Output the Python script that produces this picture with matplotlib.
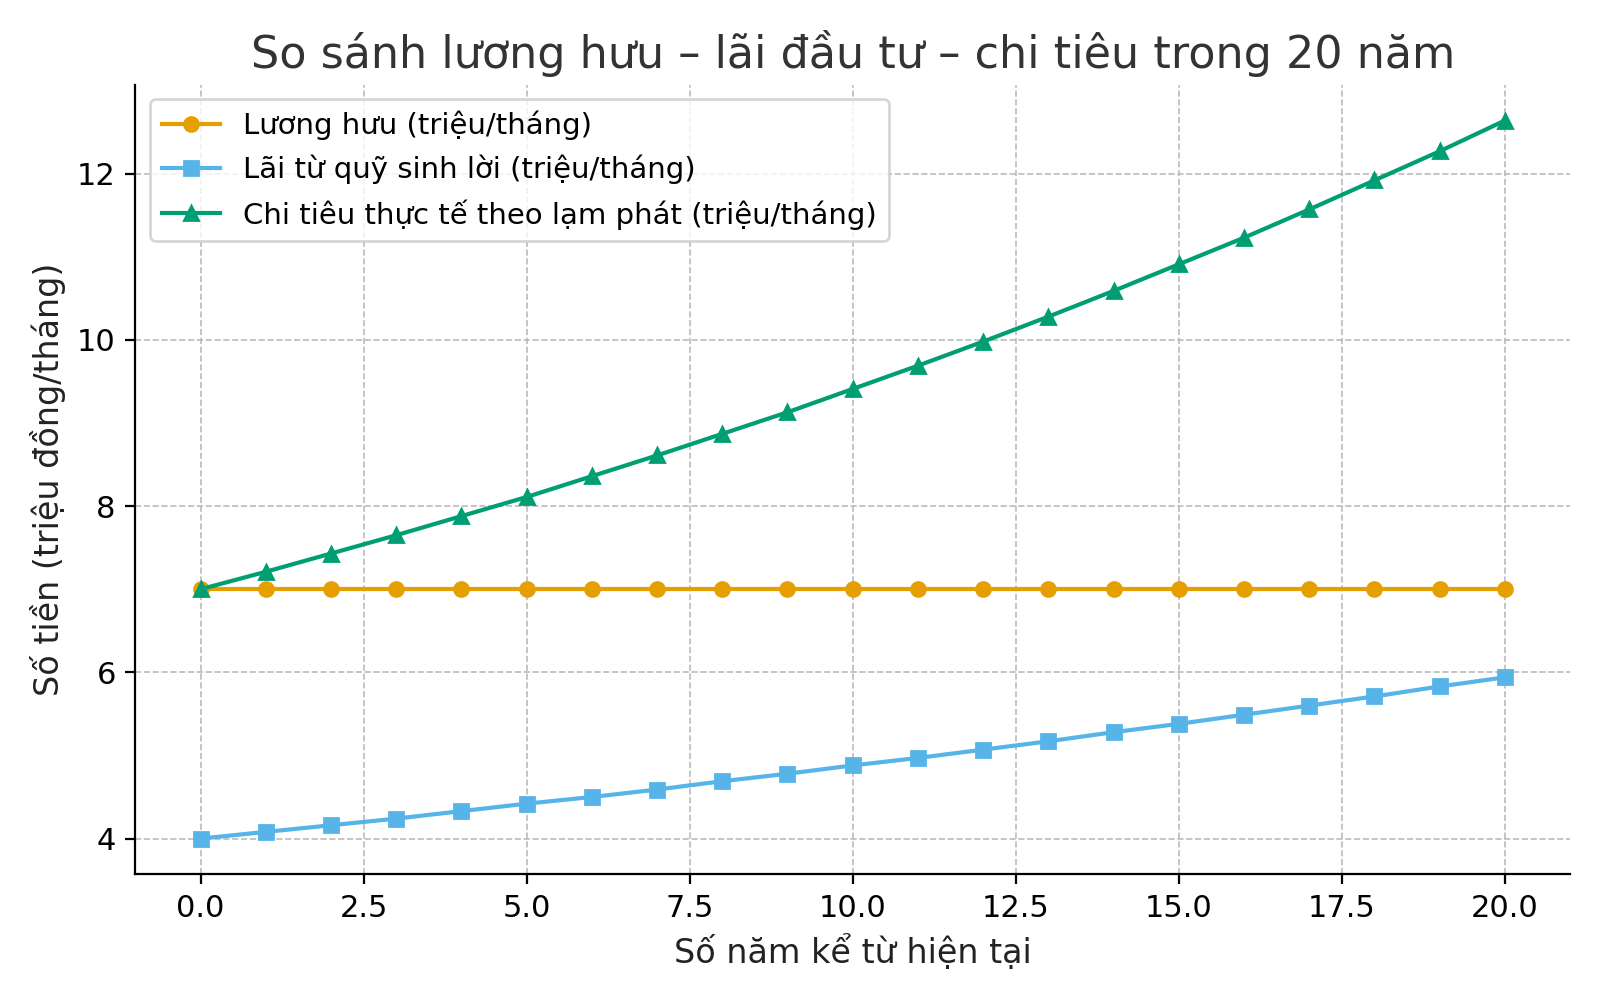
import matplotlib
matplotlib.use("Agg")
import matplotlib.pyplot as plt

years = list(range(21))
pension = [7.0]*21
interest = [4.00,4.08,4.16,4.24,4.33,4.42,4.50,4.59,4.69,4.78,4.88,4.97,5.07,5.17,5.28,5.38,5.49,5.60,5.71,5.83,5.94]
spending = [7.00,7.21,7.43,7.65,7.88,8.11,8.36,8.61,8.87,9.13,9.41,9.69,9.98,10.28,10.59,10.91,11.23,11.57,11.92,12.27,12.64]

plt.rcParams['font.family'] = ['DejaVu Sans']
fig, ax = plt.subplots(figsize=(8, 5), dpi=200)
ax.plot(years, pension, marker='o', color='#E69F00', lw=1.5, ms=5, label='Lương hưu (triệu/tháng)')
ax.plot(years, interest, marker='s', color='#56B4E9', lw=1.5, ms=5, label='Lãi từ quỹ sinh lời (triệu/tháng)')
ax.plot(years, spending, marker='^', color='#009E73', lw=1.5, ms=5, label='Chi tiêu thực tế theo lạm phát (triệu/tháng)')
ax.set_title('So sánh lương hưu – lãi đầu tư – chi tiêu trong 20 năm', fontsize=16, color='#333333')
ax.set_xlabel('Số năm kể từ hiện tại', fontsize=12, color='#222222')
ax.set_ylabel('Số tiền (triệu đồng/tháng)', fontsize=12, color='#222222')
ax.set_xticks([0,2.5,5,7.5,10,12.5,15,17.5,20])
ax.set_yticks([4,6,8,10,12])
ax.tick_params(labelsize=11)
ax.grid(True, ls='--', lw=0.6, color='#bbbbbb')
for s in ['top','right']:
    ax.spines[s].set_visible(False)
ax.legend(loc='upper left', fontsize=10.5)
fig.tight_layout()
fig.savefig('out.png')
